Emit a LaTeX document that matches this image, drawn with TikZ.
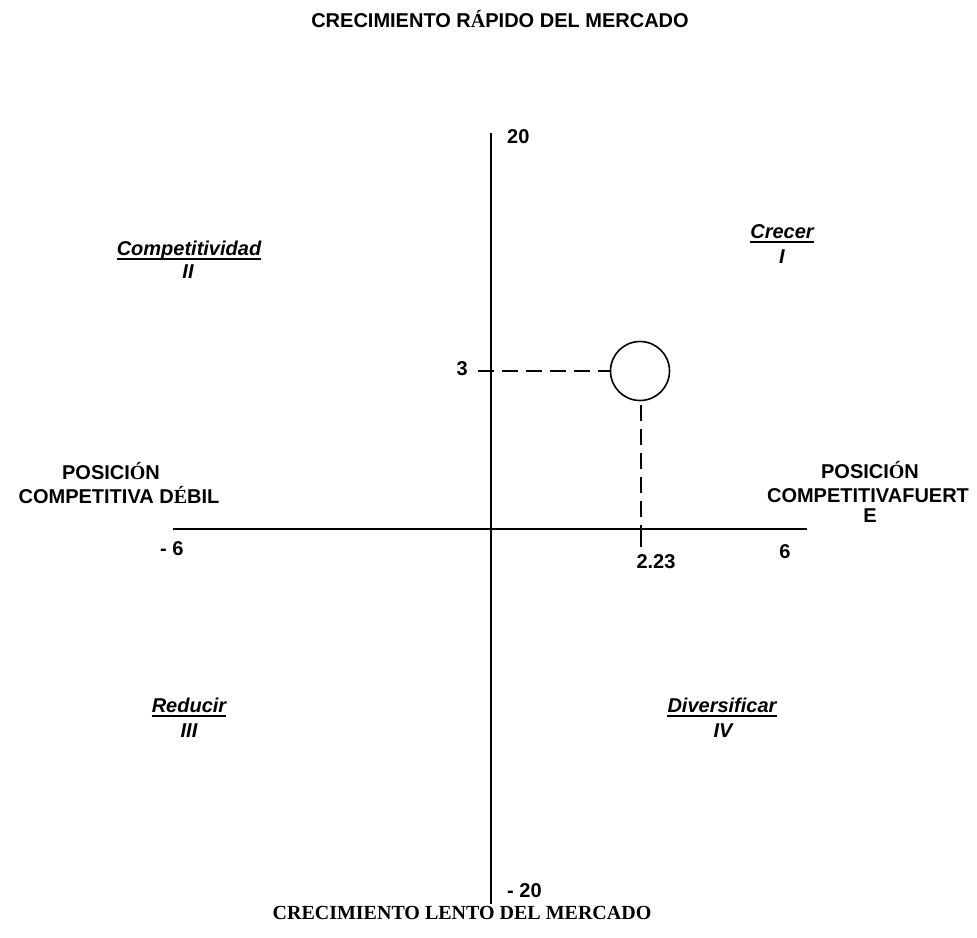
\documentclass[tikz,border=0pt]{standalone}
\usepackage{fontspec}
\setmainfont{Liberation Sans}
\newfontfamily\serifface{Liberation Serif}
\begin{document}
\begin{tikzpicture}[x=1pt,y=-1pt,
  lbl/.style={inner sep=0pt,anchor=base,font=\fontsize{20}{22}\selectfont\bfseries},
  quad/.style={lbl,font=\fontsize{20}{22}\selectfont\bfseries\itshape},
  axis/.style={line width=1.6pt},
  guide/.style={line width=1.6pt,dash pattern=on 16pt off 8pt},
  uline/.style={line width=2pt}]
\useasboundingbox (0,0) rectangle (977,937);

% titles
\node[lbl] (top) at (500,27) {CRECIMIENTO R{\serifface Á}PIDO DEL MERCADO};
\node[lbl,font=\fontsize{20}{22}\selectfont\serifface\bfseries] (bottom) at (462,919) {CRECIMIENTO LENTO DEL MERCADO};

% axes
\coordinate (ytop) at (491,133);
\coordinate (ybot) at (491,904);
\coordinate (xleft) at (173,529);
\coordinate (xright) at (807,529);
\draw[axis] (ytop) -- (ybot);
\draw[axis] (xleft) -- (xright);

% axis values
\node[lbl,anchor=base west] (ymax) at (507,143) {20};
\node[lbl,anchor=base west] (ymin) at (507,897) {- 20};
\node[lbl,anchor=base west] (xmin) at (160,555) {- 6};
\node[lbl] (xmax) at (785,558) {6};

% side labels
\node[lbl] (weak1) at (111,479) {POSICI{\serifface Ó}N};
\node[lbl] (weak2) at (119,503) {COMPETITIVA D{\serifface É}BIL};
\node[lbl] (strong1) at (870,478) {POSICI{\serifface Ó}N};
\node[lbl] (strong2) at (868,502) {COMPETITIVAFUERT};
\node[lbl] (strong3) at (870,522) {E};

% quadrant labels
\node[quad] (q2) at (189,255) {Competitividad};
\node[quad] (q2n) at (188,278) {II};
\node[quad] (q1) at (782,238) {Crecer};
\node[quad] (q1n) at (782,263) {I};
\node[quad] (q3) at (189,712) {Reducir};
\node[quad] (q3n) at (189,737) {III};
\node[quad] (q4) at (722,712) {Diversificar};
\node[quad] (q4n) at (723,737) {IV};
\foreach \n in {q1,q2,q3,q4}
  \draw[uline] ([yshift=-3.5pt]\n.base west) -- ([yshift=-3.5pt]\n.base east);

% position of the company
\node[draw,circle,line width=1.6pt,minimum size=59pt,inner sep=0pt] (pos) at (640,371) {};
\coordinate (ytick) at (478,371);
\coordinate (xmark) at (641,529);
\coordinate (xtick) at (641,547);
\coordinate (xdash) at (641,405);
\node[lbl,anchor=base east] (yval) at (468,375) {3};
\node[lbl] (xval) at (656,568) {2.23};
\draw[guide] (ytick) -- (pos.west);
\draw[guide] (xdash) -- (xmark);
\draw[axis] (xmark) -- (xtick);
\end{tikzpicture}
\end{document}
